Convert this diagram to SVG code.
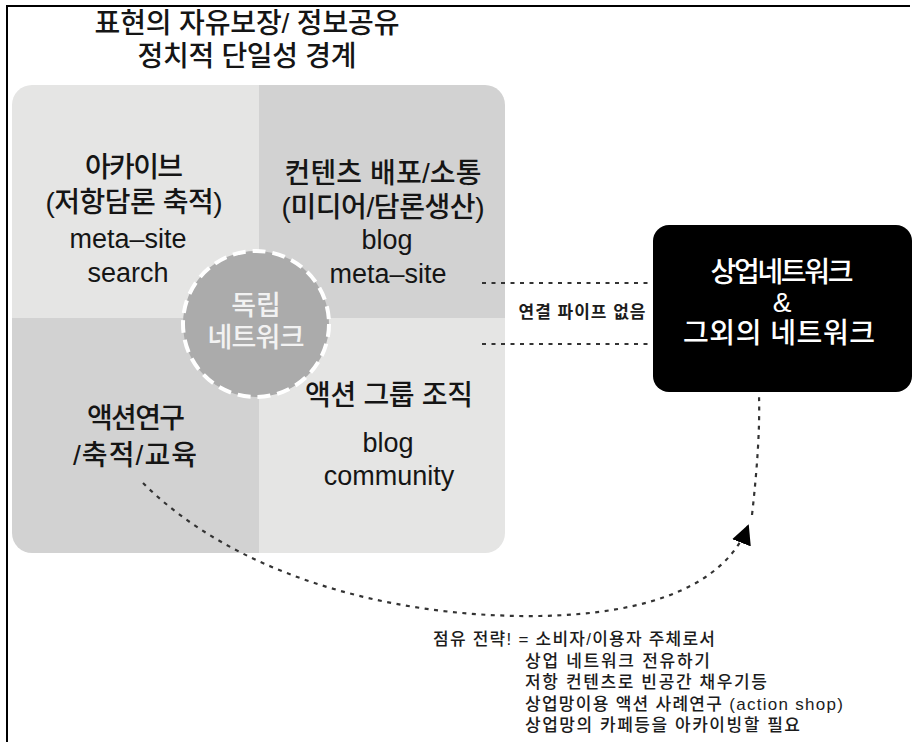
<svg xmlns="http://www.w3.org/2000/svg" width="915" height="742" viewBox="0 0 915 742">
<defs>
<style>
.t{font-family:"Liberation Sans","Noto Sans CJK KR",sans-serif;fill:#151515;text-anchor:middle}
.k{font-size:28px;font-weight:500}
.l{font-size:27px}
.w{fill:#ffffff}
.c{fill:#f2f2f2;font-size:27px;font-weight:500}
.s{font-family:"Liberation Sans","Noto Sans CJK KR",sans-serif;fill:#1c1c1c;font-size:17px;font-weight:500}
.dot{fill:none;stroke:#333;stroke-width:2.2;stroke-dasharray:4 5.5}
</style>
<clipPath id="sq"><rect x="12" y="85" width="493" height="468" rx="20"/></clipPath>
<marker id="ah" viewBox="0 0 10 10" refX="9" refY="5" markerWidth="20" markerHeight="20" markerUnits="userSpaceOnUse" orient="auto">
<path d="M0,0 L10,5 L0,10 z" fill="#000"/>
</marker>
</defs>
<rect width="915" height="742" fill="#fff"/>
<path d="M7,742 V6 H910" fill="none" stroke="#000" stroke-width="2"/>
<text class="t k" x="247" y="33" textLength="305" lengthAdjust="spacing">표현의 자유보장/ 정보공유</text>
<text class="t k" x="247" y="66" textLength="219" lengthAdjust="spacing">정치적 단일성 경계</text>
<g id="quadrants" clip-path="url(#sq)">
<rect x="12" y="85" width="247" height="233" fill="#e5e5e4"/>
<rect x="259" y="85" width="246" height="233" fill="#d2d2d2"/>
<rect x="12" y="318" width="247" height="235" fill="#d2d2d2"/>
<rect x="259" y="318" width="246" height="235" fill="#e5e5e4"/>
</g>
<g id="archive">
<text class="t k" x="134" y="177" textLength="98" lengthAdjust="spacing">아카이브</text>
<text class="t k" x="134" y="212" textLength="177" lengthAdjust="spacing">(저항담론 축적)</text>
<text class="t l" x="128" y="248">meta–site</text>
<text class="t l" x="128" y="282">search</text>
</g>
<g id="content">
<text class="t k" x="383" y="183" textLength="197" lengthAdjust="spacing">컨텐츠 배포/소통</text>
<text class="t k" x="383" y="217" textLength="203" lengthAdjust="spacing">(미디어/담론생산)</text>
<text class="t l" x="387" y="249">blog</text>
<text class="t l" x="388" y="283">meta–site</text>
</g>
<g id="research">
<text class="t k" x="136" y="428" textLength="98" lengthAdjust="spacing">액션연구</text>
<text class="t k" x="135" y="465" textLength="124" lengthAdjust="spacing">/축적/교육</text>
</g>
<g id="action-group">
<text class="t k" x="389" y="405" textLength="168" lengthAdjust="spacing">액션 그룹 조직</text>
<text class="t l" x="388" y="452">blog</text>
<text class="t l" x="389" y="485">community</text>
</g>
<g id="independent">
<circle cx="256" cy="324" r="73" fill="#ababab" stroke="#ffffff" stroke-width="4" stroke-dasharray="13 7"/>
<text class="t c" x="256" y="315">독립</text>
<text class="t c" x="256" y="347" textLength="97" lengthAdjust="spacing">네트워크</text>
</g>
<g id="commercial">
<rect x="653" y="225" width="259" height="167" rx="16" fill="#000"/>
<text class="t k w" x="782" y="282" textLength="143" lengthAdjust="spacing">상업네트워크</text>
<text class="t k w" x="782" y="312">&amp;</text>
<text class="t k w" x="779" y="343" textLength="192" lengthAdjust="spacing">그외의 네트워크</text>
</g>
<g id="connectors">
<path class="dot" d="M482,283 H650"/>
<path class="dot" d="M482,344 H650"/>
<path class="dot" d="M143,483 C230,570 380,618 540,616 C650,614 725,585 748,526" marker-end="url(#ah)"/>
<path class="dot" d="M752,515 C757,470 760,430 759,395"/>
<text x="582" y="318" style="font-family:'Liberation Sans','Noto Sans CJK KR',sans-serif;font-size:17px;font-weight:700;fill:#1c1c1c;text-anchor:middle" textLength="127" lengthAdjust="spacing">연결 파이프 없음</text>
</g>
<g id="strategy">
<text class="s" x="433" y="645" textLength="282" lengthAdjust="spacing">점유 전략! = 소비자/이용자 주체로서</text>
<text class="s" x="525" y="667" textLength="185" lengthAdjust="spacing">상업 네트워크 전유하기</text>
<text class="s" x="525" y="688" textLength="242" lengthAdjust="spacing">저항 컨텐츠로 빈공간 채우기등</text>
<text class="s" x="525" y="710" textLength="318" lengthAdjust="spacing">상업망이용 액션 사례연구 (action shop)</text>
<text class="s" x="525" y="731" textLength="275" lengthAdjust="spacing">상업망의 카페등을 아카이빙할 필요</text>
</g>
</svg>
